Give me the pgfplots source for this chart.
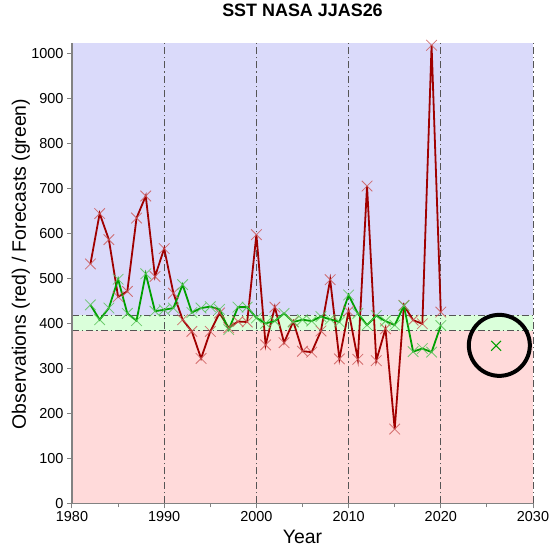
\documentclass[border=0pt]{standalone}
\usepackage{pgfplots}
\pgfplotsset{compat=1.18}
\usepackage{fontspec}
\setmainfont{Liberation Sans}
\definecolor{bgblue}{RGB}{218,218,250}
\definecolor{bggreen}{RGB}{218,255,218}
\definecolor{bgred}{RGB}{255,218,218}
\definecolor{obsred}{RGB}{160,0,0}
\definecolor{obsmark}{RGB}{205,90,90}
\definecolor{fcgreen}{RGB}{0,160,0}
\definecolor{fcmark}{RGB}{90,195,90}
\definecolor{axgray}{RGB}{130,130,130}
\definecolor{ddgray}{RGB}{85,85,85}
\begin{document}
\begin{tikzpicture}
\path[use as bounding box] (-72bp,-45.7bp) rectangle (477bp,503.3bp);
\begin{axis}[
  at={(0,0)}, anchor=south west,
  scale only axis, width=461bp, height=460.3bp,
  xmin=1980, xmax=2030, ymin=0, ymax=1023,
  axis x line*=bottom, axis y line*=left,
  axis line style={draw=axgray, line width=1.2bp},
  xtick={1980,1990,...,2030}, minor x tick num=1,
  ytick={0,100,...,1000},
  tick align=outside, major tick length=5bp, minor tick length=4bp,
  tick style={color=axgray, line width=1bp},
  /pgf/number format/1000 sep=,
  /pgf/number format/assume math mode=true,
  ticklabel style={font=\fontsize{14.5}{16}\selectfont},
  title={SST NASA JJAS26},
  title style={font=\bfseries\fontsize{18}{20}\selectfont, at={(axis description cs:0.5,1)}, anchor=base, yshift=21bp},
  xlabel={Year}, ylabel={Observations (red) / Forecasts (green)},
  label style={font=\fontsize{19.5}{21}\selectfont},
  xlabel style={at={(axis description cs:0.5,0)}, anchor=base, yshift=-40.5bp},
  ylabel style={at={(axis description cs:-0.1,0.52)}, anchor=base, rotate=0},
  clip=false,
  axis on top,
]
\fill[bgblue] (axis cs:1980,418) rectangle (axis cs:2030,1023);
\fill[bggreen] (axis cs:1980,383) rectangle (axis cs:2030,418);
\fill[bgred] (axis cs:1980,0) rectangle (axis cs:2030,383);
\foreach \yy in {383,418} {
  \edef\tmp{\noexpand\draw[ddgray, line width=1bp, dash pattern=on 7bp off 3bp on 1.5bp off 3bp] (axis cs:1980,\yy) -- (axis cs:2030,\yy);}\tmp
}
\foreach \xx in {1990,2000,2010,2020,2030} {
  \edef\tmp{\noexpand\draw[ddgray, line width=1bp, dash pattern=on 7bp off 3bp on 1.5bp off 3bp] (axis cs:\xx,0) -- (axis cs:\xx,1023);}\tmp
}
\addplot[color=obsred, line width=1.8bp, mark=x, mark size=7.5bp,
  mark options={draw=obsmark, line width=0.8bp, opacity=0.85}] coordinates {
(1982,532) (1983,644) (1984,586) (1985,459) (1986,471) (1987,634) (1988,683)
(1989,504) (1990,566) (1991,467) (1992,408) (1993,382) (1994,322) (1995,382)
(1996,423) (1997,390) (1998,404) (1999,403) (2000,597) (2001,352) (2002,436)
(2003,357) (2004,404) (2005,338) (2006,336) (2007,383) (2008,497) (2009,321)
(2010,427) (2011,320) (2012,705) (2013,317) (2014,388) (2015,165) (2016,440)
(2017,407) (2018,399) (2019,1018) (2020,425)
};
\addplot[color=fcgreen, line width=1.8bp, mark=x, mark size=7.5bp,
  mark options={draw=fcmark, line width=0.8bp, opacity=0.85}] coordinates {
(1982,441) (1983,408) (1984,434) (1985,498) (1986,422) (1987,406) (1988,510)
(1989,427) (1990,430) (1991,434) (1992,486) (1993,424) (1994,434) (1995,437)
(1996,431) (1997,386) (1998,436) (1999,436) (2000,412) (2001,400) (2002,405)
(2003,422) (2004,403) (2005,408) (2006,405) (2007,415) (2008,409) (2009,403)
(2010,463) (2011,422) (2012,396) (2013,417) (2014,405) (2015,396) (2016,439)
(2017,337) (2018,344) (2019,336) (2020,395)
};
\addplot[only marks, mark=x, mark size=7bp, mark options={draw=fcgreen, line width=1bp}]
  coordinates {(2026,350)};
\draw[black, line width=4bp] (axis cs:2026.35,351) circle[radius=30.5bp];
\end{axis}
\end{tikzpicture}
\end{document}
